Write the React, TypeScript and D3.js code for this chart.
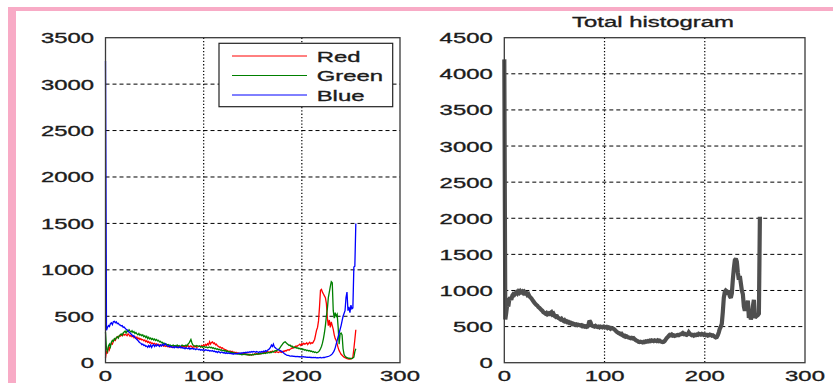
import React from "react";
import * as d3 from "d3";

const binsCount = 256;

const redValues = [
  50, 130, 100, 170, 140, 190, 210, 200, 230, 250, 240, 265, 280, 270, 290, 285,
  300, 290, 310, 295, 305, 300, 290, 310, 300, 285, 295, 280, 290, 270, 280, 265,
  275, 255, 265, 250, 258, 245, 250, 235, 245, 225, 235, 218, 228, 212, 220, 205,
  212, 200, 208, 195, 203, 190, 198, 186, 194, 182, 190, 178, 186, 175, 182, 172,
  180, 168, 176, 170, 164, 174, 166, 172, 180, 164, 176, 170, 162, 176, 168, 180,
  170, 176, 164, 180, 186, 170, 176, 182, 170, 164, 176, 170, 180, 166, 172, 176,
  180, 170, 186, 176, 192, 180, 198, 186, 205, 192, 226, 200, 218, 224, 205, 212,
  192, 200, 182, 176, 166, 170, 156, 160, 150, 146, 140, 136, 130, 126, 120, 126,
  116, 122, 110, 116, 106, 112, 100, 106, 96, 102, 92, 100, 96, 104, 90, 96,
  86, 92, 82, 90, 86, 80, 90, 86, 95, 90, 100, 95, 90, 100, 95, 105,
  100, 110, 105, 115, 110, 120, 115, 110, 120, 115, 125, 120, 115, 110, 120, 115,
  110, 115, 120, 110, 115, 125, 120, 130, 125, 135, 140, 135, 145, 150, 160, 155,
  165, 170, 180, 175, 185, 190, 200, 185, 205, 195, 210, 200, 205, 215, 195, 210,
  220, 205, 215, 210, 230, 250, 300, 350, 380, 450, 600, 780, 790, 760, 740, 720,
  700, 640, 480, 400, 460, 380, 440, 400, 360, 300, 260, 240, 200, 160, 130, 110,
  90, 80, 70, 60, 55, 50, 45, 42, 40, 40, 42, 45, 60, 150, 250, 355,
];

const greenValues = [
  330, 150, 120, 180, 200, 170, 220, 240, 230, 260, 250, 270, 280, 265, 290, 300,
  310, 295, 320, 330, 340, 320, 345, 335, 355, 340, 330, 345, 325, 335, 315, 325,
  310, 300, 315, 295, 305, 290, 300, 280, 290, 270, 285, 260, 275, 255, 265, 250,
  260, 245, 255, 240, 250, 235, 240, 225, 230, 215, 220, 205, 210, 195, 200, 190,
  195, 185, 190, 180, 185, 190, 180, 185, 175, 190, 180, 185, 175, 180, 190, 185,
  180, 185, 190, 180, 200, 210, 230, 250, 215, 190, 185, 180, 175, 185, 180, 175,
  180, 170, 175, 165, 175, 170, 165, 170, 160, 165, 170, 160, 165, 155, 160, 150,
  155, 145, 150, 140, 145, 135, 140, 130, 135, 125, 130, 120, 125, 115, 120, 110,
  115, 105, 110, 100, 105, 95, 100, 92, 98, 88, 95, 85, 92, 88, 95, 85,
  90, 82, 88, 80, 86, 82, 90, 85, 92, 88, 95, 90, 98, 94, 100, 96,
  102, 98, 105, 100, 108, 104, 110, 106, 112, 110, 118, 115, 125, 130, 128, 135,
  140, 150, 165, 180, 195, 210, 220, 226, 215, 205, 195, 185, 190, 175, 180, 165,
  170, 160, 165, 155, 160, 150, 155, 145, 150, 140, 145, 135, 140, 130, 135, 125,
  130, 120, 125, 115, 120, 110, 115, 108, 112, 118, 130, 150, 175, 210, 260, 320,
  400, 500, 580, 700, 760, 820, 872, 860, 560, 480, 540, 500, 520, 380, 200, 310,
  320, 300, 150, 90, 70, 60, 55, 50, 48, 46, 45, 44, 50, 60, 120, 150,
];

const blueValues = [
  3250, 350, 380, 400, 390, 420, 430, 410, 440, 445, 430, 440, 420, 425, 410, 405,
  395, 400, 380, 385, 370, 360, 355, 340, 330, 320, 310, 300, 285, 290, 270, 260,
  250, 240, 225, 215, 210, 195, 200, 185, 190, 175, 180, 165, 185, 170, 190, 165,
  185, 195, 175, 190, 180, 195, 185, 175, 190, 180, 200, 185, 195, 205, 190, 180,
  175, 185, 170, 175, 165, 170, 160, 175, 165, 170, 160, 165, 175, 160, 165, 155,
  160, 150, 160, 155, 150, 160, 145, 155, 150, 155, 145, 150, 140, 150, 145, 140,
  145, 135, 140, 135, 140, 130, 140, 135, 130, 135, 125, 130, 125, 130, 120, 125,
  115, 120, 110, 120, 115, 105, 115, 110, 105, 110, 100, 108, 100, 105, 98, 102,
  95, 100, 92, 98, 95, 100, 96, 102, 98, 105, 100, 108, 104, 110, 106, 112,
  108, 115, 110, 118, 112, 120, 115, 122, 118, 112, 120, 115, 110, 118, 112, 120,
  115, 125, 118, 130, 122, 135, 140, 150, 165, 190, 175, 200, 170, 160, 150, 145,
  140, 135, 130, 125, 118, 110, 100, 92, 85, 80, 78, 75, 72, 70, 72, 68,
  70, 66, 68, 65, 67, 64, 66, 63, 65, 62, 64, 60, 62, 58, 60, 57,
  59, 56, 58, 55, 57, 54, 56, 53, 55, 52, 54, 56, 53, 55, 58, 56,
  60, 62, 65, 68, 72, 78, 85, 95, 110, 130, 160, 200, 240, 280, 320, 360,
  400, 450, 500, 530, 560, 700, 760, 560, 600, 540, 620, 580, 590, 1030, 1040, 1500,
];

const totalValues = [
  4200, 600, 700, 820, 780, 880, 900, 870, 930, 950, 940, 960, 975, 960, 985, 970,
  990, 975, 985, 965, 980, 960, 965, 940, 950, 920, 905, 890, 870, 850, 830, 815,
  800, 790, 770, 760, 745, 730, 720, 700, 690, 680, 690, 670, 680, 660, 690, 700,
  670, 680, 650, 640, 660, 630, 620, 610, 600, 610, 590, 580, 590, 570, 575, 560,
  565, 550, 555, 540, 545, 530, 535, 525, 530, 520, 525, 520, 515, 520, 505, 510,
  500, 505, 495, 500, 530, 580, 560, 520, 510, 505, 500, 510, 500, 495, 500, 490,
  500, 495, 490, 500, 495, 490, 495, 480, 490, 485, 470, 480, 475, 470, 460, 445,
  430, 420, 410, 405, 395, 400, 380, 370, 375, 360, 365, 355, 350, 345, 340, 345,
  335, 340, 325, 315, 305, 300, 290, 285, 290, 285, 280, 290, 285, 295, 290, 300,
  295, 305, 300, 310, 305, 300, 310, 305, 300, 310, 300, 305, 295, 290, 285, 290,
  300, 320, 340, 355, 370, 385, 380, 390, 375, 380, 370, 375, 380, 385, 380, 390,
  395, 400, 410, 395, 400, 390, 385, 395, 420, 400, 390, 380, 385, 375, 385, 380,
  390, 385, 400, 395, 390, 400, 395, 385, 390, 380, 385, 375, 380, 390, 385, 375,
  380, 370, 360, 350, 355, 380, 420, 470, 500, 540, 700, 900, 980, 1000, 990, 940,
  1000, 920, 900, 960, 1150, 1300, 1420, 1440, 1400, 1250, 1150, 1200, 1100, 1000, 950, 780,
  720, 820, 740, 860, 620, 680, 600, 640, 780, 870, 620, 640, 650, 660, 680, 2020,
];

const xTicks = [0, 100, 200, 300];
const leftYTicks = [0, 500, 1000, 1500, 2000, 2500, 3000, 3500];
const rightYTicks = [0, 500, 1000, 1500, 2000, 2500, 3000, 3500, 4000, 4500];
const legendLabels = ["Red", "Green", "Blue"];
const seriesColors = ["#ff0000", "#008000", "#0000ff"];
const chartTitle = "Total histogram";

const FONT = "'Liberation Sans', Arial, Helvetica, sans-serif";
const SX = 1.55;
const FS = 15.4;
const TEXT_COLOR = "#1c1c1c";

function SText(props: { x: number; y: number; anchor: string; children: React.ReactNode; size?: number }) {
  const { x, y, anchor, children, size } = props;
  return (
    <text
      transform={`translate(${x},${y}) scale(${SX},1)`}
      textAnchor={anchor as any}
      fontSize={size ?? FS}
      fontFamily={FONT}
      fill={TEXT_COLOR}
      stroke={TEXT_COLOR}
      strokeWidth={0.35}
    >
      {children}
    </text>
  );
}

function Axes(props: {
  x0: number; x1: number; y0: number; y1: number; yMax: number; yTicks: number[];
  labelRight: number; children?: (xs: d3.ScaleLinear<number, number>, ys: d3.ScaleLinear<number, number>) => React.ReactNode;
  overlay?: React.ReactNode;
}) {
  const { x0, x1, y0, y1, yMax, yTicks, labelRight } = props;
  const xs = d3.scaleLinear().domain([0, 300]).range([x0, x1]);
  const ys = d3.scaleLinear().domain([0, yMax]).range([y1, y0]);
  return (
    <g>
      <rect x={x0} y={y0} width={x1 - x0} height={y1 - y0} fill="#ffffff" />
      {yTicks.filter((t) => t > 0 && t < yMax).map((t) => (
        <line key={"h" + t} x1={x0} x2={x1} y1={ys(t)} y2={ys(t)} stroke="#000" strokeWidth={1} strokeDasharray="4,3" />
      ))}
      {xTicks.filter((t) => t > 0 && t < 300).map((t) => (
        <line key={"v" + t} x1={xs(t)} x2={xs(t)} y1={y0} y2={y1} stroke="#000" strokeWidth={1.2} strokeDasharray="1.3,2" />
      ))}
      {props.children && props.children(xs, ys)}
      <rect x={x0} y={y0} width={x1 - x0} height={y1 - y0} fill="none" stroke="#3a3a3a" strokeWidth={1.3} />
      {props.overlay}
      {yTicks.map((t) => (
        <SText key={"yl" + t} x={labelRight} y={ys(t) + 5.5} anchor="end">{String(t)}</SText>
      ))}
      {xTicks.map((t) => (
        <SText key={"xl" + t} x={xs(t)} y={381} anchor="middle">{String(t)}</SText>
      ))}
    </g>
  );
}

export default function App() {
  const bins = d3.range(binsCount);
  const series = [redValues, greenValues, blueValues];
  return (
    <svg
      width={833}
      height={383}
      style={{ position: "absolute", left: 0, top: 0, background: "#ffffff" }}
    >
      <rect x={0} y={0} width={833} height={383} fill="#ffffff" />
      <rect x={8} y={7} width={825} height={4} fill="#f8abc6" />
      <rect x={8} y={7} width={8} height={376} fill="#f8abc6" />

      <Axes
        x0={105.5}
        x1={400}
        y0={37.7}
        y1={362.7}
        yMax={3500}
        yTicks={leftYTicks}
        labelRight={94}
        overlay={
          <g>
            <rect x={219} y={43.3} width={173.7} height={63.4} fill="#ffffff" stroke="#222" strokeWidth={1.2} />
            {legendLabels.map((lab, i) => {
              const ly = 56 + i * 19.5;
              return (
                <g key={lab}>
                  <line x1={232} x2={307} y1={ly} y2={ly} stroke={seriesColors[i]} strokeWidth={1} />
                  <SText x={316.7} y={ly + 5.5} anchor="start">{lab}</SText>
                </g>
              );
            })}
          </g>
        }
      >
        {(xs, ys) =>
          series.map((vals, i) => {
            const line = d3
              .line<number>()
              .x((d, j) => xs(bins[j]))
              .y((d) => ys(d));
            return (
              <path key={i} d={line(vals) || ""} fill="none" stroke={seriesColors[i]} strokeWidth={1.3} strokeLinejoin="miter" />
            );
          })
        }
      </Axes>

      <Axes
        x0={504.3}
        x1={805}
        y0={37.7}
        y1={362.7}
        yMax={4500}
        yTicks={rightYTicks}
        labelRight={492.7}
      >
        {(xs, ys) => {
          const line = d3
            .line<number>()
            .x((d, j) => xs(bins[j]))
            .y((d) => ys(d));
          return <path d={line(totalValues) || ""} fill="none" stroke="#4f4f4f" strokeWidth={4.2} strokeLinejoin="miter" strokeMiterlimit={2} />;
        }}
      </Axes>

      <SText x={653} y={26.5} anchor="middle">{chartTitle}</SText>
    </svg>
  );
}
